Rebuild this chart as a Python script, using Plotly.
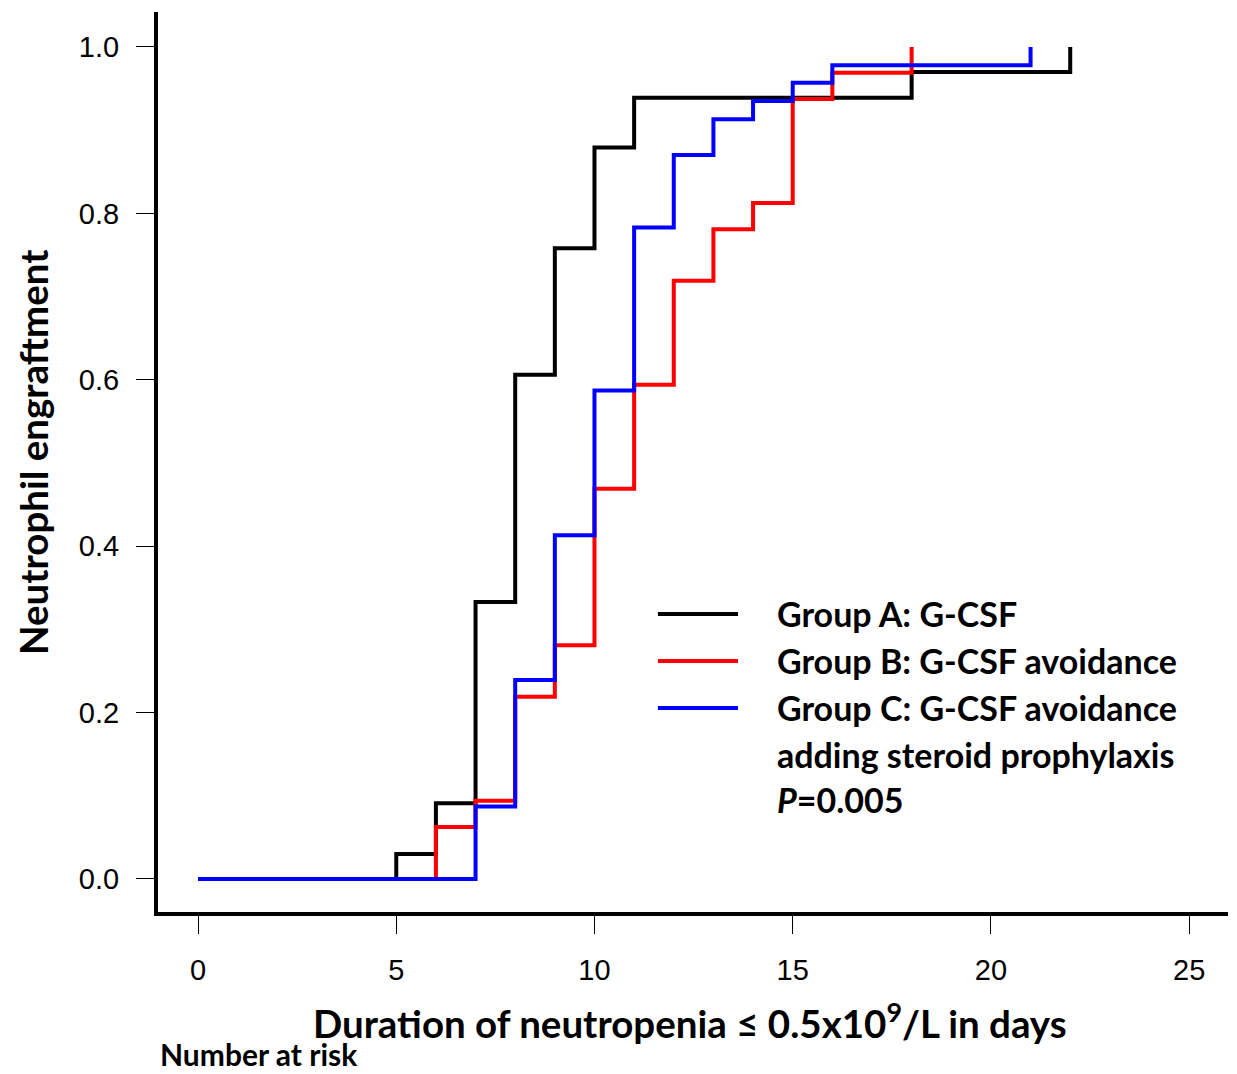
import plotly.graph_objects as go

# Group A: G-CSF
a_days = [0, 5, 6, 7, 8, 9, 10, 11, 18, 22]
a_engraft = [0.0, 0.030, 0.091, 0.333, 0.606, 0.758, 0.879, 0.939, 0.970, 1.0]
# Group B: G-CSF avoidance
b_days = [0, 6, 7, 8, 9, 10, 11, 12, 13, 14, 15, 16, 18]
b_engraft = [0.0, 0.0625, 0.094, 0.219, 0.281, 0.469, 0.594, 0.719, 0.781, 0.8125, 0.9375, 0.969, 1.0]
# Group C: G-CSF avoidance adding steroid prophylaxis
c_days = [0, 7, 8, 9, 10, 11, 12, 13, 14, 15, 16, 21]
c_engraft = [0.0, 0.087, 0.239, 0.413, 0.587, 0.783, 0.870, 0.913, 0.935, 0.957, 0.978, 1.0]

x_ticks = [0, 5, 10, 15, 20, 25]
y_ticks = [0.0, 0.2, 0.4, 0.6, 0.8, 1.0]
y_ticklabels = ["0.0", "0.2", "0.4", "0.6", "0.8", "1.0"]

series = [
    ("Group A: G-CSF", a_days, a_engraft, "#000000"),
    ("Group B: G-CSF avoidance", b_days, b_engraft, "#ff0000"),
    ("Group C: G-CSF avoidance", c_days, c_engraft, "#0000ff"),
]

TITLE_FONT = "Lato"
TICK_FONT = "Liberation Sans"

fig = go.Figure()
for name, xs, ys, col in series:
    fig.add_trace(go.Scatter(x=xs, y=ys, mode="lines", name=name,
                             line=dict(color=col, width=4, shape="hv"),
                             showlegend=False, hoverinfo="skip"))

# manual legend (data coordinates)
leg_x0, leg_x1, leg_tx = 11.60, 13.62, 14.56
leg_rows = [0.3185, 0.262, 0.2055, 0.150, 0.095]
leg_texts = ["Group A: G-CSF", "Group B: G-CSF avoidance", "Group C: G-CSF avoidance",
             "adding steroid prophylaxis", "<i>P</i>=0.005"]
for i, (_, _, _, col) in enumerate(series):
    fig.add_shape(type="line", xref="x", yref="y", x0=leg_x0, x1=leg_x1,
                  y0=leg_rows[i], y1=leg_rows[i], line=dict(color=col, width=4))
for yv, txt in zip(leg_rows, leg_texts):
    fig.add_annotation(x=leg_tx, y=yv, xref="x", yref="y", text="<b>" + txt + "</b>",
                       showarrow=False, xanchor="left", yanchor="middle",
                       font=dict(family=TITLE_FONT, size=34, color="black"))

# axis titles
fig.add_annotation(x=-0.1168, y=0.511, xref="paper", yref="paper",
                   text="<b>Neutrophil engraftment</b>", textangle=-90,
                   showarrow=False, xanchor="center", yanchor="middle",
                   font=dict(family=TITLE_FONT, size=38.5, color="black"))
fig.add_annotation(x=0.497, y=-0.12, xref="paper", yref="paper",
                   text="<b>Duration of neutropenia ≤ 0.5x10<sup>9</sup>/L in days</b>",
                   showarrow=False, xanchor="center", yanchor="middle",
                   font=dict(family=TITLE_FONT, size=38.5, color="black"))
fig.add_annotation(x=0.0, y=-0.18, xref="paper", yref="paper",
                   text="<b>Number at risk</b>",
                   showarrow=False, xanchor="left", yanchor="bottom",
                   font=dict(family=TITLE_FONT, size=30, color="black"))

fig.update_xaxes(range=[-1.01, 25.98], tickvals=x_ticks, showgrid=False, zeroline=False,
                 showline=True, linewidth=4, linecolor="black",
                 ticks="outside", ticklen=18, tickwidth=1.2, tickcolor="black",
                 ticklabelstandoff=11,
                 tickfont=dict(family=TICK_FONT, size=29, color="black"))
fig.update_yaxes(range=[-0.0397, 1.042], tickvals=y_ticks, ticktext=y_ticklabels,
                 showgrid=False, zeroline=False,
                 showline=True, linewidth=4, linecolor="black",
                 ticks="outside", ticklen=18, tickwidth=1.2, tickcolor="black",
                 ticklabelstandoff=11,
                 tickfont=dict(family=TICK_FONT, size=29, color="black"))

# page body has an 8px margin: shift plot so it lands on the reference pixels
fig.update_layout(width=1229, height=1066, plot_bgcolor="white", paper_bgcolor="white",
                  margin=dict(l=150, r=9, t=4, b=162), showlegend=False)

fig.write_html("out.html")
